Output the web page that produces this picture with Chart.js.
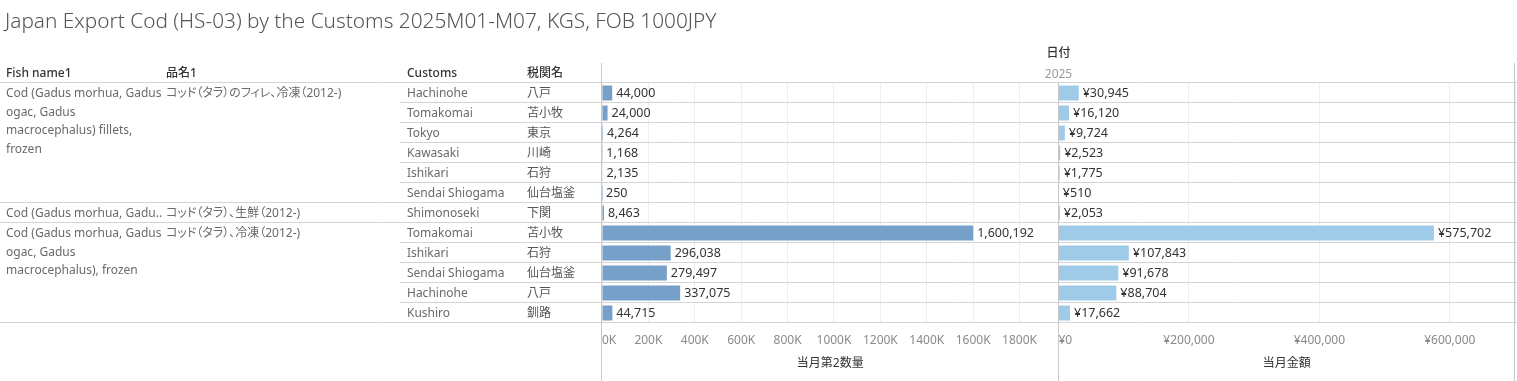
<!DOCTYPE html>
<html><head><meta charset="utf-8">
<script src="https://cdn.jsdelivr.net/npm/chart.js@4.4.1/dist/chart.umd.min.js"></script>
<style>
html,body{margin:0;padding:0;background:#fff;}
body{width:1517px;height:381px;position:relative;overflow:hidden;font-family:"Noto Sans","Noto Sans CJK JP",sans-serif;}
#wrap{position:absolute;left:0;top:0;width:1517px;height:381px;}
.t{position:absolute;white-space:nowrap;font-size:12px;line-height:20px;height:20px;}
.h{color:#333;font-weight:500;}
.b{color:#6a6a6a;}
.jp{font-feature-settings:"palt";}
#title{position:absolute;left:5px;top:6px;font-size:20.8px;font-weight:300;color:#555;white-space:nowrap;line-height:28px;}
</style></head>
<body>
<div id="wrap"><canvas id="c" width="1517" height="381"></canvas></div>
<div id="title"></div>
<div id="overlay"></div>
<script>
const chartTitle = "Japan Export Cod (HS-03) by the Customs 2025M01-M07, KGS, FOB 1000JPY";
const headers = ["Fish name1", "品名1", "Customs", "税関名"];
const dateHeader = "日付";
const yearLabel = "2025";
const customsEn = ["Hachinohe","Tomakomai","Tokyo","Kawasaki","Ishikari","Sendai Shiogama","Shimonoseki","Tomakomai","Ishikari","Sendai Shiogama","Hachinohe","Kushiro"];
const customsJa = ["八戸","苫小牧","東京","川崎","石狩","仙台塩釜","下関","苫小牧","石狩","仙台塩釜","八戸","釧路"];
const fishNames = [
  ["Cod (Gadus morhua, Gadus","ogac, Gadus","macrocephalus) fillets,","frozen"],
  ["Cod (Gadus morhua, Gadu.."],
  ["Cod (Gadus morhua, Gadus","ogac, Gadus","macrocephalus), frozen"]
];
const hinmei = ["コッド（タラ）のフィレ、冷凍（2012-)","コッド（タラ）、生鮮（2012-)","コッド（タラ）、冷凍（2012-)"];
const groupSizes = [6, 1, 5];
const quantity = [44000,24000,4264,1168,2135,250,8463,1600192,296038,279497,337075,44715];
const amount = [30945,16120,9724,2523,1775,510,2053,575702,107843,91678,88704,17662];
const qtyTicks = [0,200000,400000,600000,800000,1000000,1200000,1400000,1600000,1800000];
const amtTicks = [0,200000,400000,600000];
const qtyMax = 1968000;
const amtMax = 700000;
const qtyTitle = "当月第2数量";
const amtTitle = "当月金額";

const FONT = '"Noto Sans","Noto Sans CJK JP",sans-serif';
Chart.defaults.font.family = FONT;
Chart.defaults.font.size = 12;

const fmtQty = v => v.toLocaleString('en-US');
const fmtAmt = v => '¥' + v.toLocaleString('en-US');

const LINE = '#d4d4d4';

const tablePlugin = {
  id: 'tableLines',
  beforeDatasetsDraw(chart) {
    const {ctx, chartArea, scales} = chart;
    const y = scales.y;
    ctx.save();
    ctx.strokeStyle = LINE;
    ctx.lineWidth = 1;
    const n = customsEn.length;
    const groupStarts = new Set();
    let acc = 0;
    groupSizes.forEach(s => { groupStarts.add(acc); acc += s; });
    groupStarts.add(n);
    for (let i = 0; i <= n; i++) {
      let py;
      if (i === 0) py = chartArea.top;
      else if (i === n) py = chartArea.bottom;
      else py = (y.getPixelForValue(i - 1) + y.getPixelForValue(i)) / 2;
      py = Math.round(py) - 0.5;
      const x0 = groupStarts.has(i) ? 0 : 400;
      ctx.beginPath(); ctx.moveTo(x0, py); ctx.lineTo(chart.width, py); ctx.stroke();
    }
    ctx.strokeStyle = '#c8c8c8';
    const vx = [[Math.round(chartArea.left) - 0.5, 63], [Math.round(scales.x.right) - 0.5, chartArea.top], [Math.round(scales.x2.right) - 0.5, 63]];
    vx.forEach(([x, t]) => { ctx.beginPath(); ctx.moveTo(x, t); ctx.lineTo(x, chart.height); ctx.stroke(); });
    ctx.restore();
  },
  afterDatasetsDraw(chart) {
    const {ctx} = chart;
    ctx.save();
    ctx.font = '12.5px ' + FONT;
    ctx.fillStyle = '#333';
    ctx.textBaseline = 'middle';
    ctx.textAlign = 'left';
    chart.data.datasets.forEach((ds, di) => {
      const meta = chart.getDatasetMeta(di);
      meta.data.forEach((el, i) => {
        const txt = di === 0 ? fmtQty(ds.data[i]) : fmtAmt(ds.data[i]);
        ctx.fillText(txt, el.x + 4, el.y + 0.5);
      });
    });
    ctx.restore();
  }
};

function axis(ticks, max, fmt, title) {
  return {
    type: 'linear', position: 'bottom', stack: 'cols', stackWeight: 1,
    min: 0, max: max,
    afterBuildTicks: s => { s.ticks = ticks.concat([max]).map(v => ({value: v})); },
    afterFit: s => { s.height = 58; },
    grid: { color: '#eeeeee', drawTicks: true, tickLength: 10, tickColor: 'rgba(0,0,0,0)', lineWidth: 1 },
    border: { display: false },
    ticks: {
      autoSkip: false, maxRotation: 0, align: 'inner', padding: 0,
      color: '#8a8a8a', font: { size: 12 },
      callback: v => ticks.includes(v) ? fmt(v) : ''
    },
    title: { display: true, text: title, color: '#333', font: { size: 12 }, padding: { top: 0, bottom: 10 } }
  };
}

const chart = new Chart(document.getElementById('c'), {
  type: 'bar',
  data: {
    labels: customsEn,
    datasets: [
      { label: qtyTitle, data: quantity, xAxisID: 'x', backgroundColor: '#76a0c7', grouped: false, barPercentage: 1, categoryPercentage: 0.75 },
      { label: amtTitle, data: amount, xAxisID: 'x2', backgroundColor: '#a0cbe8', grouped: false, barPercentage: 1, categoryPercentage: 0.75 }
    ]
  },
  options: {
    indexAxis: 'y', responsive: false, animation: false, devicePixelRatio: 1,
    layout: { padding: { left: 602, top: 83, right: 2, bottom: 0 } },
    plugins: { legend: { display: false }, tooltip: { enabled: false } },
    scales: {
      y: { type: 'category', display: false, offset: true },
      x: axis(qtyTicks, qtyMax, v => (v / 1000) + 'K', qtyTitle),
      x2: axis(amtTicks, amtMax, fmtAmt, amtTitle)
    }
  },
  plugins: [tablePlugin]
});

// HTML table text
document.getElementById('title').textContent = chartTitle;
const ov = document.getElementById('overlay');
function addText(txt, x, cy, cls, extra) {
  const d = document.createElement('div');
  d.className = 't ' + cls;
  d.textContent = txt;
  d.style.left = x + 'px';
  d.style.top = (cy - 10) + 'px';
  if (extra) Object.assign(d.style, extra);
  ov.appendChild(d);
  return d;
}
const ys = chart.scales.y;
const ca = chart.chartArea;
const headerY = ca.top - 10;
const colX = [6, 166, 407, 527];
headers.forEach((h, i) => addText(h, colX[i], headerY, 'h jp'));
const midX = (ca.left + ca.right) / 2;
const dh = addText(dateHeader, 0, headerY - 20, 'h', { width: '60px', textAlign: 'center' });
dh.style.left = (midX - 30) + 'px';
const yl = addText(yearLabel, 0, headerY + 1, 'b', { width: '60px', textAlign: 'center', color: '#999' });
yl.style.left = (midX - 30) + 'px';
customsEn.forEach((c, i) => {
  const cy = ys.getPixelForValue(i);
  addText(c, colX[2], cy, 'b');
  addText(customsJa[i], colX[3], cy, 'b jp', { color: '#555' });
});
let start = 0;
groupSizes.forEach((s, g) => {
  const cy = ys.getPixelForValue(start);
  fishNames[g].forEach((line, k) => addText(line, colX[0], cy + k * 18.5, 'b'));
  addText(hinmei[g], colX[1], cy, 'b jp');
  start += s;
});
</script>
</body></html>
